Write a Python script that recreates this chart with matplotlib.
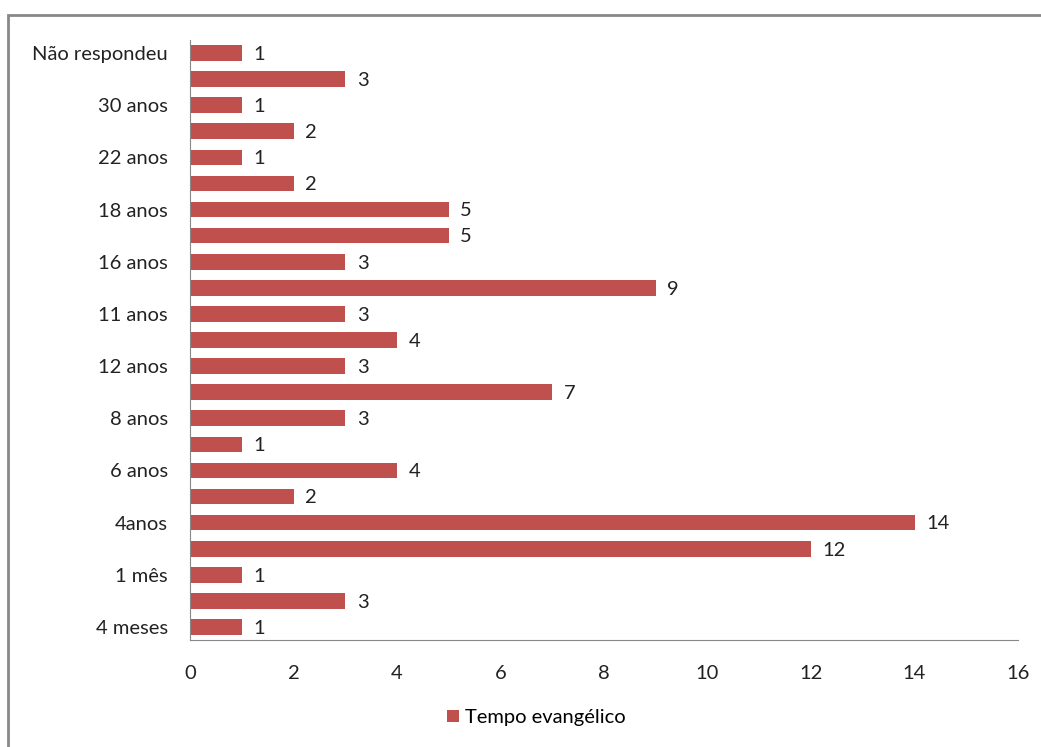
import matplotlib.pyplot as plt
from matplotlib.patches import Rectangle

# Kategorien von unten nach oben (nur jede zweite ist beschriftet)
categories = ["4 meses", "", "1 mês", "", "4anos", "", "6 anos", "", "8 anos", "",
              "12 anos", "", "11 anos", "", "16 anos", "", "18 anos", "", "22 anos", "",
              "30 anos", "", "Não respondeu"]
values = [1, 3, 1, 12, 14, 2, 4, 1, 3, 7, 3, 4, 3, 9, 3, 5, 5, 2, 1, 2, 1, 3, 1]
series_name = "Tempo evangélico"
x_ticks = [0, 2, 4, 6, 8, 10, 12, 14, 16]

plt.rcParams['font.family'] = ['Lato', 'DejaVu Sans']
fs = 14.5

fig = plt.figure(figsize=(10.41, 7.47), dpi=100)
ax = fig.add_axes([190 / 1041, 1 - 640 / 747, (1018 - 190) / 1041, 600 / 747])

pos = list(range(len(categories)))
ax.barh(pos, values, height=0.6, color='#C0504D', label=series_name)

for p, v in zip(pos, values):
    ax.text(v + 0.22, p - 0.05, str(v), va='center', ha='left', fontsize=fs, color='#222222')

ax.set_yticks(pos)
ax.set_yticklabels(categories, fontsize=fs, color='#222222')
ax.set_xticks(x_ticks)
ax.set_xticklabels([str(t) for t in x_ticks], fontsize=fs, color='#222222')
ax.set_xlim(0, 16)
ax.set_ylim(-0.5, len(categories) - 0.5)

ax.tick_params(axis='y', length=0, pad=16)
ax.tick_params(axis='x', length=0, pad=18)
for s in ['top', 'right']:
    ax.spines[s].set_visible(False)
ax.spines['left'].set_color('#888888')
ax.spines['bottom'].set_color('#888888')

ax.legend(loc='upper center', bbox_to_anchor=(0.418, -0.085), frameon=False,
          fontsize=fs, handlelength=0.6, handleheight=0.6, handletextpad=0.3)

# Rahmen um das Diagramm (rechts und unten abgeschnitten)
fig.patches.append(Rectangle((8 / 1041, -0.05), 1.1, 1.05 - 15 / 747, transform=fig.transFigure,
                             fill=False, edgecolor='#888888', linewidth=2, clip_on=False))

fig.savefig('out.png', dpi=100)
